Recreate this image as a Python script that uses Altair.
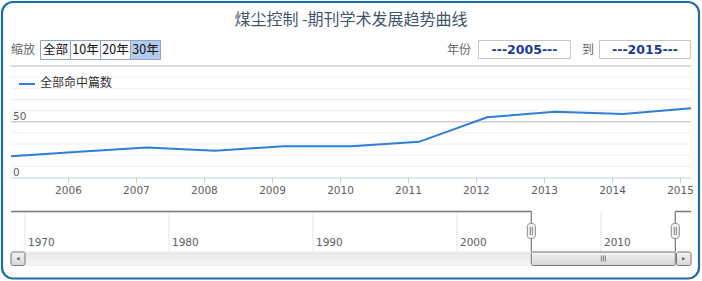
import altair as alt
import pandas as pd

# ---------------- data ----------------
years = list(range(2005, 2016))
counts = [19, 23, 27, 24, 28, 28, 32, 54, 59, 57, 62]
series_name = "全部命中篇数"
title_text = "煤尘控制 -期刊学术发展趋势曲线"
y_minor = [10, 20, 30, 40, 60, 70, 80, 90]
y_major = [50, 100]
y_label_values = [0, 50]
x_tick_years = list(range(2006, 2016))
nav_years = [1970, 1980, 1990, 2000, 2010]
zoom_labels = ["全部", "10年", "20年", "30年"]
zoom_selected = "30年"
range_label = "年份"
range_to_label = "到"
range_from = "---2005---"
range_to = "---2015---"
zoom_label = "缩放"

# ---------------- layout constants (styles only) ----------------
W, H = 702, 281
PX0, PX1 = 11, 691
PY0, PY100 = 177.5, 66.0
NAV_TOP, NAV_BOT = 211.5, 252.0
SB_TOP, SB_BOT = 252.0, 265.5
FONT_CJK = "Noto Sans CJK SC"
FONT_NUM = "DejaVu Sans"
LINE_COLOR = "#2f7ed8"

main_df = pd.DataFrame({"date": [f"{y}-03-01" for y in years], "count": counts, "series": series_name})
sel_df = pd.DataFrame({"s0": [main_df["date"].iloc[0]], "s1": [main_df["date"].iloc[-1]]})
nav_df = pd.DataFrame({"d": [f"{y}-01-01" for y in nav_years], "label": [str(y) for y in nav_years]})
minor_df = pd.DataFrame({"v": y_minor})
major_df = pd.DataFrame({"v": y_major})
ylab_df = pd.DataFrame({"v": y_label_values, "label": [str(v) for v in y_label_values]})
btn_df = pd.DataFrame({"label": zoom_labels, "i": list(range(len(zoom_labels)))})
btn_df["i2"] = btn_df["i"] + 1
btn_df["sel"] = btn_df["label"] == zoom_selected

main_x = alt.Scale(type="utc",
                   domain=[alt.DateTime(year=years[0], month=3, date=1, utc=True),
                           alt.DateTime(year=years[-1], month=3, date=1, utc=True)],
                   range=[PX0, PX1], nice=False)
main_y = alt.Scale(domain=[0, 100], range=[PY0, PY100], nice=False, zero=False)
nav_x = alt.Scale(type="utc",
                  domain=[alt.DateTime(year=1969, month=1, date=11, utc=True),
                          alt.DateTime(year=2016, month=4, date=2, utc=True)],
                  range=[PX0, PX1], nice=False)

layers = []

# gridlines
layers.append(alt.Chart(minor_df).mark_rule(color="#efefef", strokeWidth=1).encode(
    y=alt.Y("v:Q", scale=main_y, axis=None), x=alt.value(PX0), x2=alt.value(PX1)))
layers.append(alt.Chart(major_df).mark_rule(color="#cfcfcf", strokeWidth=1.5).encode(
    y=alt.Y("v:Q", scale=main_y, axis=None), x=alt.value(PX0), x2=alt.value(PX1)))

# main line with x axis
layers.append(alt.Chart(main_df).mark_line(color=LINE_COLOR, strokeWidth=2).encode(
    x=alt.X("date:T", scale=main_x,
            axis=alt.Axis(orient="bottom", offset=-(H - PY0), title=None,
                          values=[alt.DateTime(year=y, month=1, date=1, utc=True) for y in x_tick_years],
                          format="%Y", grid=False, domainColor="#C0D0E0", tickColor="#C0D0E0",
                          tickSize=5, labelFontSize=10.5, labelColor="#606060", labelFont=FONT_NUM,
                          labelPadding=3, labelFlush=False, labelOverlap=False)),
    y=alt.Y("count:Q", scale=main_y, axis=None)))

# y labels
layers.append(alt.Chart(ylab_df).mark_text(align="left", baseline="bottom", dy=0, fontSize=10.5,
                                            font=FONT_NUM, color="#606060").encode(
    y=alt.Y("v:Q", scale=main_y, axis=None), x=alt.value(13), text="label:N"))

# legend
layers.append(alt.Chart(main_df.head(1)).mark_rule(color=LINE_COLOR, strokeWidth=2).encode(
    x=alt.value(19), x2=alt.value(35), y=alt.value(84)))
layers.append(alt.Chart(main_df.head(1)).mark_text(align="left", baseline="middle", fontSize=12,
                                                   font=FONT_CJK, color="#333333").encode(
    x=alt.value(40), y=alt.value(83), text="series:N"))

# title
layers.append(alt.Chart(pd.DataFrame({"t": [title_text]})).mark_text(
    align="center", baseline="middle", fontSize=16, font=FONT_CJK, color="#3E576F").encode(
    x=alt.value(351), y=alt.value(20), text="t:N"))

# zoom buttons
layers.append(alt.Chart(pd.DataFrame({"t": [zoom_label]})).mark_text(
    align="left", baseline="middle", fontSize=12, font=FONT_CJK, color="#666666").encode(
    x=alt.value(11), y=alt.value(50), text="t:N"))
btn_x = alt.Scale(domain=[0, 4], range=[40.5, 160.5])
layers.append(alt.Chart(btn_df).mark_rect(stroke="#8ea7c9", strokeWidth=1).encode(
    x=alt.X("i:Q", scale=btn_x, axis=None), x2="i2:Q",
    y=alt.value(40.5), y2=alt.value(59.5),
    fill=alt.condition("datum.sel", alt.value("#b5cbec"), alt.value("#fbfbfb"))))
layers.append(alt.Chart(btn_df).transform_calculate(m="datum.i + 0.5").mark_text(
    align="center", baseline="middle", fontSize=12.5, font=FONT_CJK, color="#111111").encode(
    x=alt.X("m:Q", scale=btn_x, axis=None), y=alt.value(50), text="label:N"))

# range inputs
layers.append(alt.Chart(pd.DataFrame({"t": [range_label, range_to_label], "x": [447, 582]})).mark_text(
    align="left", baseline="middle", fontSize=12, font=FONT_CJK, color="#666666").encode(
    x=alt.X("x:Q", scale=alt.Scale(domain=[0, W], range=[0, W]), axis=None), y=alt.value(50), text="t:N"))
box_df = pd.DataFrame({"t": [range_from, range_to], "a": [478.5, 599.5], "b": [570.5, 690.5]})
box_scale = alt.Scale(domain=[0, W], range=[0, W])
layers.append(alt.Chart(box_df).mark_rect(fill="white", stroke="#c6c6c6", strokeWidth=1).encode(
    x=alt.X("a:Q", scale=box_scale, axis=None), x2="b:Q", y=alt.value(40.5), y2=alt.value(58.5)))
layers.append(alt.Chart(box_df).transform_calculate(m="(datum.a + datum.b) / 2").mark_text(
    align="center", baseline="middle", fontSize=12.5, fontWeight="bold", font=FONT_NUM,
    color="#1b3a94").encode(
    x=alt.X("m:Q", scale=box_scale, axis=None), y=alt.value(50), text="t:N"))

# navigator gridlines & labels
layers.append(alt.Chart(nav_df).mark_rule(color="#e4e4e4", strokeWidth=1).encode(
    x=alt.X("d:T", scale=nav_x, axis=None), y=alt.value(NAV_TOP), y2=alt.value(NAV_BOT)))
layers.append(alt.Chart(nav_df).mark_text(align="left", baseline="middle", dx=3, fontSize=10.5,
                                          font=FONT_NUM, color="#606060").encode(
    x=alt.X("d:T", scale=nav_x, axis=None), y=alt.value(243), text="label:N"))

# scrollbar track
grad_track = alt.Gradient(gradient="linear", x1=0, x2=0, y1=0, y2=1,
                          stops=[alt.GradientStop(color="#e6e6e6", offset=0),
                                 alt.GradientStop(color="#f6f6f6", offset=1)])
grad_thumb = alt.Gradient(gradient="linear", x1=0, x2=0, y1=0, y2=1,
                          stops=[alt.GradientStop(color="#f4f4f4", offset=0),
                                 alt.GradientStop(color="#d6d6d6", offset=1)])
layers.append(alt.Chart(sel_df).mark_rect(fill=grad_track, stroke="#eeeeee").encode(
    x=alt.value(PX0), x2=alt.value(PX1), y=alt.value(SB_TOP), y2=alt.value(SB_BOT)))
layers.append(alt.Chart(sel_df).mark_rect(fill=grad_thumb, stroke="#777777", strokeWidth=1,
                                          cornerRadius=2).encode(
    x=alt.X("s0:T", scale=nav_x, axis=None), x2="s1:T", y=alt.value(SB_TOP), y2=alt.value(SB_BOT)))
grip = alt.Chart(sel_df).transform_calculate(
    mid="(time(toDate(datum.s0)) + time(toDate(datum.s1))) / 2")
for off in (-2, 0, 2):
    layers.append(grip.mark_rule(color="#777777", strokeWidth=1, xOffset=off).encode(
        x=alt.X("mid:T", scale=nav_x, axis=None), y=alt.value(255.5), y2=alt.value(261.5)))
# scroll buttons
for bx0, bx1, shape in ((PX0, 25, "triangle-left"), (676.5, PX1, "triangle-right")):
    layers.append(alt.Chart(sel_df).mark_rect(fill=grad_thumb, stroke="#777777", strokeWidth=1,
                                              cornerRadius=2).encode(
        x=alt.value(bx0), x2=alt.value(bx1), y=alt.value(SB_TOP), y2=alt.value(SB_BOT)))
    layers.append(alt.Chart(sel_df).mark_point(shape=shape, filled=True, size=12, color="#555555",
                                               opacity=1).encode(
        x=alt.value((bx0 + bx1) / 2), y=alt.value((SB_TOP + SB_BOT) / 2)))

# navigator outline
OUT = "#777777"
layers.append(alt.Chart(sel_df).mark_rule(color=OUT, strokeWidth=1.5).encode(
    x=alt.X("s0:T", scale=nav_x, axis=None), x2=alt.value(PX0), y=alt.value(NAV_TOP)))
layers.append(alt.Chart(sel_df).mark_rule(color=OUT, strokeWidth=1.5).encode(
    x=alt.X("s1:T", scale=nav_x, axis=None), x2=alt.value(PX1), y=alt.value(NAV_TOP)))
for f in ("s0", "s1"):
    layers.append(alt.Chart(sel_df).mark_rule(color=OUT, strokeWidth=1.2).encode(
        x=alt.X(f"{f}:T", scale=nav_x, axis=None), y=alt.value(NAV_TOP), y2=alt.value(NAV_BOT)))
    layers.append(alt.Chart(sel_df).mark_rect(fill="#f2f2f2", stroke="#888888", strokeWidth=1,
                                              cornerRadius=3, xOffset=-4, x2Offset=4).encode(
        x=alt.X(f"{f}:T", scale=nav_x, axis=None), x2=f"{f}:T",
        y=alt.value(223.5), y2=alt.value(238.5)))
    for off in (-1, 1):
        layers.append(alt.Chart(sel_df).mark_rule(color="#666666", strokeWidth=0.8, xOffset=off).encode(
            x=alt.X(f"{f}:T", scale=nav_x, axis=None), y=alt.value(227), y2=alt.value(235)))

# outer border
layers.append(alt.Chart(sel_df).mark_rect(fill=None, stroke="#1a6fa8", strokeWidth=2.2,
                                          cornerRadius=11).encode(
    x=alt.value(2), x2=alt.value(699), y=alt.value(2), y2=alt.value(278.5)))

chart = alt.layer(*layers).resolve_scale(x="independent", y="independent").properties(
    width=W, height=H, padding=0, autosize=alt.AutoSizeParams(type="none"),
    background="white"
).configure_view(stroke=None)

chart.save("out.html", embed_options={"renderer": "svg", "actions": False})
